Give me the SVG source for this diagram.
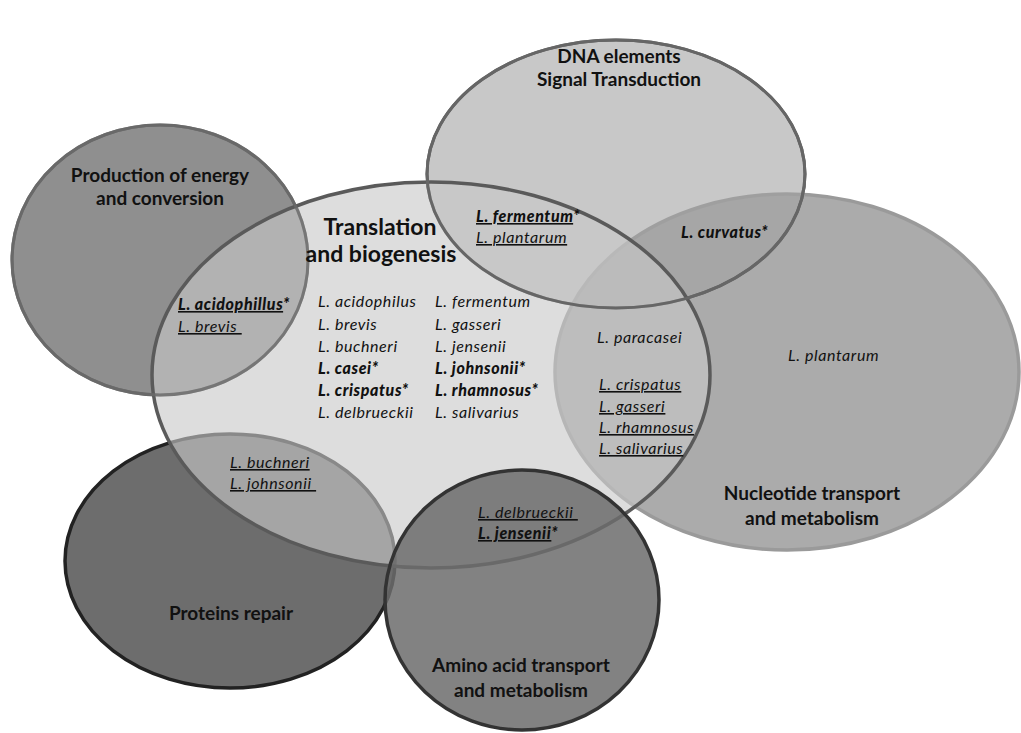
<svg xmlns="http://www.w3.org/2000/svg" width="1021" height="733" viewBox="0 0 1021 733">
<style>
.t{font-family:Lato,"Open Sans","Liberation Sans",sans-serif;font-weight:bold;font-size:19px;fill:#111;text-anchor:middle}
.tl{font-size:23px}
.s{font-family:Lato,"Open Sans","Liberation Sans",sans-serif;font-style:italic;font-size:16px;letter-spacing:0.6px;fill:#111}
.b{font-weight:900}
.u{text-decoration:underline}
</style>
<rect width="1021" height="733" fill="#fff"/>
<g id="nucleotide"><ellipse cx="787" cy="372" rx="232" ry="178" fill="#ababab" stroke="#9a9a9a" stroke-width="3.5"/></g>
<g id="energy"><ellipse cx="160" cy="260" rx="148" ry="135" fill="#8f8f8f" stroke="#666" stroke-width="3"/></g>
<g id="proteins"><ellipse cx="230" cy="561" rx="165" ry="127" fill="#6d6d6d" stroke="#222" stroke-width="3.5"/></g>
<g id="dna"><ellipse cx="616" cy="174" rx="189" ry="134" fill="#a4a4a4" fill-opacity="0.6" stroke="#666" stroke-width="3"/></g>
<g id="translation"><ellipse cx="431" cy="375" rx="279" ry="193" fill="#c8c8c8" fill-opacity="0.62" stroke="#5a5a5a" stroke-width="3.5"/></g>
<g id="amino"><ellipse cx="522" cy="600" rx="137" ry="130" fill="#6c6c6c" fill-opacity="0.85" stroke="#333" stroke-width="3.5"/></g>
<g id="outlines" fill="none">
<ellipse cx="160" cy="260" rx="148" ry="135" stroke="#6a6a6a" stroke-width="3" stroke-opacity="0.8"/>
<ellipse cx="616" cy="174" rx="189" ry="134" stroke="#666" stroke-width="3"/>
</g>
<g id="labels">
<text class="t" x="619" y="63">DNA elements</text>
<text class="t" x="619" y="86">Signal Transduction</text>
<text class="t" x="160" y="182">Production of energy</text>
<text class="t" x="160" y="205">and conversion</text>
<text class="t tl" x="380" y="235">Translation</text>
<text class="t tl" x="381" y="262">and biogenesis</text>
<text class="t" x="812" y="500">Nucleotide transport</text>
<text class="t" x="812" y="525">and metabolism</text>
<text class="t" x="231" y="620">Proteins repair</text>
<text class="t" x="521" y="672">Amino acid transport</text>
<text class="t" x="521" y="697">and metabolism</text>
</g>
<g id="species">
<text class="s" x="318" y="307">L. acidophilus</text>
<text class="s" x="318" y="330">L. brevis</text>
<text class="s" x="318" y="352">L. buchneri</text>
<text class="s b" x="318" y="374">L. casei*</text>
<text class="s b" x="318" y="396">L. crispatus*</text>
<text class="s" x="318" y="418">L. delbrueckii</text>
<text class="s" x="435" y="307">L. fermentum</text>
<text class="s" x="435" y="330">L. gasseri</text>
<text class="s" x="435" y="352">L. jensenii</text>
<text class="s b" x="435" y="374">L. johnsonii*</text>
<text class="s b" x="435" y="396">L. rhamnosus*</text>
<text class="s" x="435" y="418">L. salivarius</text>
<text class="s b" x="178" y="310"><tspan class="u">L. acidophillus</tspan>*</text>
<text class="s u" x="178" y="332">L. brevis&#160;</text>
<text class="s b" x="476" y="222"><tspan class="u">L. fermentum</tspan>*</text>
<text class="s u" x="476" y="243">L. plantarum</text>
<text class="s b" x="681" y="238">L. curvatus*</text>
<text class="s" x="597" y="343">L. paracasei</text>
<text class="s u" x="599" y="390">L. crispatus</text>
<text class="s u" x="599" y="412">L. gasseri</text>
<text class="s u" x="599" y="433">L. rhamnosus</text>
<text class="s u" x="599" y="454">L. salivarius</text>
<text class="s" x="788" y="361">L. plantarum</text>
<text class="s u" x="230" y="468">L. buchneri</text>
<text class="s u" x="230" y="489">L. johnsonii&#160;</text>
<text class="s u" x="478" y="518">L. delbrueckii&#160;</text>
<text class="s b" x="478" y="539"><tspan class="u">L. jensenii</tspan>*</text>
</g>
</svg>
